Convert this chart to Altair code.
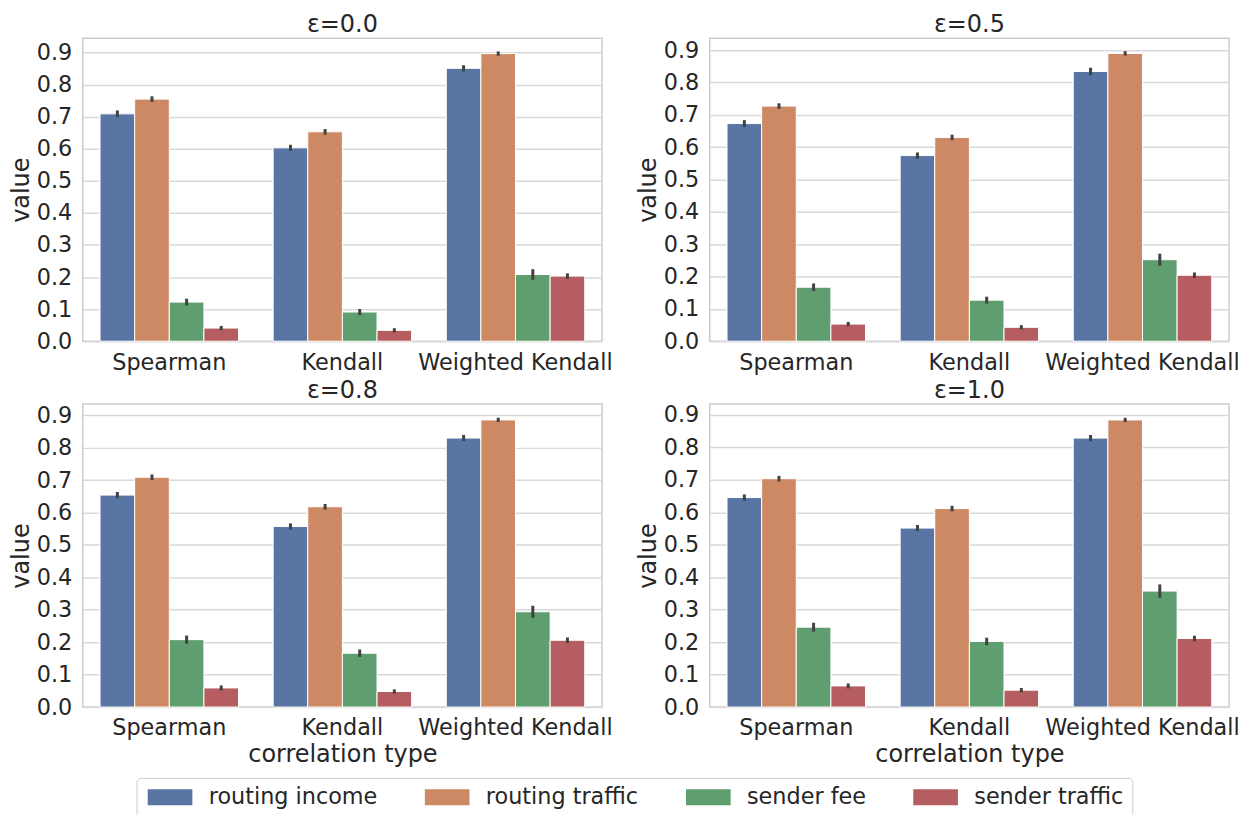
import altair as alt
import pandas as pd

# Categories, series and panel settings
categories = ["Spearman", "Kendall", "Weighted Kendall"]
metrics = ["routing income", "routing traffic", "sender fee", "sender traffic"]
colors = ["#5875A4", "#CC8963", "#5F9E6E", "#B55D60"]
eps_labels = ["0.0", "0.5", "0.8", "1.0"]
y_top = [0.945, 0.937, 0.935, 0.933]
y_ticks = [0.0, 0.1, 0.2, 0.3, 0.4, 0.5, 0.6, 0.7, 0.8, 0.9]

# Mean correlation per metric, one value per correlation type
means_00 = {
    "routing income": [0.709, 0.603, 0.851],
    "routing traffic": [0.755, 0.653, 0.897],
    "sender fee": [0.122, 0.091, 0.208],
    "sender traffic": [0.041, 0.034, 0.203],
}
means_05 = {
    "routing income": [0.673, 0.574, 0.834],
    "routing traffic": [0.727, 0.630, 0.890],
    "sender fee": [0.167, 0.127, 0.252],
    "sender traffic": [0.053, 0.043, 0.204],
}
means_08 = {
    "routing income": [0.654, 0.557, 0.830],
    "routing traffic": [0.709, 0.618, 0.886],
    "sender fee": [0.208, 0.166, 0.294],
    "sender traffic": [0.059, 0.048, 0.206],
}
means_10 = {
    "routing income": [0.645, 0.551, 0.828],
    "routing traffic": [0.703, 0.611, 0.884],
    "sender fee": [0.246, 0.202, 0.357],
    "sender traffic": [0.065, 0.052, 0.211],
}

# Half-width of the confidence interval for each bar
ci_00 = {
    "routing income": [0.006, 0.005, 0.005],
    "routing traffic": [0.004, 0.004, 0.002],
    "sender fee": [0.006, 0.005, 0.012],
    "sender traffic": [0.002, 0.002, 0.004],
}
ci_05 = {
    "routing income": [0.006, 0.005, 0.007],
    "routing traffic": [0.004, 0.004, 0.002],
    "sender fee": [0.007, 0.006, 0.014],
    "sender traffic": [0.002, 0.002, 0.004],
}
ci_08 = {
    "routing income": [0.005, 0.005, 0.005],
    "routing traffic": [0.004, 0.004, 0.002],
    "sender fee": [0.008, 0.007, 0.014],
    "sender traffic": [0.003, 0.002, 0.004],
}
ci_10 = {
    "routing income": [0.005, 0.005, 0.005],
    "routing traffic": [0.004, 0.004, 0.002],
    "sender fee": [0.009, 0.007, 0.016],
    "sender traffic": [0.003, 0.002, 0.004],
}

all_means = [means_00, means_05, means_08, means_10]
all_ci = [ci_00, ci_05, ci_08, ci_10]

rows = []
for eps, means, ci in zip(eps_labels, all_means, all_ci):
    for m in metrics:
        for i, c in enumerate(categories):
            v = means[m][i]
            e = ci[m][i]
            rows.append({"eps": eps, "corr": c, "metric": m,
                         "value": v, "lo": v - e, "hi": v + e})
df = pd.DataFrame(rows)

TEXT = "#262626"
FONT = "DejaVu Sans"
LABEL_SIZE = 22.4


def panel(idx, bottom_row):
    eps = eps_labels[idx]
    d = df[df["eps"] == eps]
    y_scale = alt.Scale(domain=[0, y_top[idx]], nice=False, zero=True)
    y_axis = alt.Axis(title="value", values=y_ticks, format=".1f",
                      labelOverlap=False, labelPadding=11,
                      titlePadding=3, grid=True)
    base = alt.Chart(d).encode(
        x=alt.X(
            "corr:N",
            sort=categories,
            scale=alt.Scale(paddingInner=0.2, paddingOuter=0.1),
            axis=alt.Axis(
                title="correlation type" if bottom_row else None,
                labelAngle=0,
                labelPadding=10,
                labelLimit=400,
                titlePadding=3,
            ),
        ),
        xOffset=alt.XOffset(
            "metric:N", sort=metrics,
            scale=alt.Scale(paddingInner=0, paddingOuter=0),
        ),
    )
    bars = base.mark_bar(stroke="white", strokeWidth=1).encode(
        y=alt.Y("value:Q", scale=y_scale, axis=y_axis),
        color=alt.Color(
            "metric:N",
            sort=metrics,
            scale=alt.Scale(domain=metrics, range=colors),
            legend=alt.Legend(title=None),
        ),
    )
    errs = base.mark_rule(color="#424242", strokeWidth=3, strokeCap="square").encode(
        y=alt.Y("lo:Q", scale=y_scale, axis=y_axis), y2="hi:Q"
    )
    return alt.layer(bars, errs).properties(
        width=521,
        height=304,
        title=alt.TitleParams(
            text=f"ε={eps}",
            fontSize=24,
            font=FONT,
            fontWeight="normal",
            color=TEXT,
            anchor="middle",
            baseline="bottom",
            offset=-23,
        ),
    )


top = alt.hconcat(panel(0, False), panel(1, False), spacing=22)
bottom = alt.hconcat(panel(2, True), panel(3, True), spacing=22)

chart = (
    alt.vconcat(top, bottom, spacing=3)
    .properties(padding={"left": 8, "top": 11, "right": 5, "bottom": 0})
    .configure(font=FONT)
    .configure_view(stroke="#cccccc", strokeWidth=1.5)
    .configure_axis(
        labelFont=FONT,
        titleFont=FONT,
        labelFontSize=LABEL_SIZE,
        titleFontSize=24,
        labelColor=TEXT,
        titleColor=TEXT,
        titleFontWeight="normal",
        domain=False,
        ticks=False,
        gridColor="#d9d9d9",
        gridWidth=1.5,
    )
    .configure_axisX(grid=False)
    .configure_legend(
        orient="none",
        legendX=54,
        legendY=742,
        direction="horizontal",
        columns=4,
        symbolType="M-1,-1H4.6V1H-1Z",
        symbolSize=256,
        symbolStrokeWidth=0,
        symbolOpacity=1,
        labelFont=FONT,
        labelFontSize=LABEL_SIZE,
        labelColor=TEXT,
        labelOffset=42,
        labelLimit=400,
        columnPadding=44,
        padding=8,
        strokeColor="#cccccc",
        fillColor="white",
        cornerRadius=4,
    )
)

chart.save("out.html", embed_options={"renderer": "svg", "actions": False})
